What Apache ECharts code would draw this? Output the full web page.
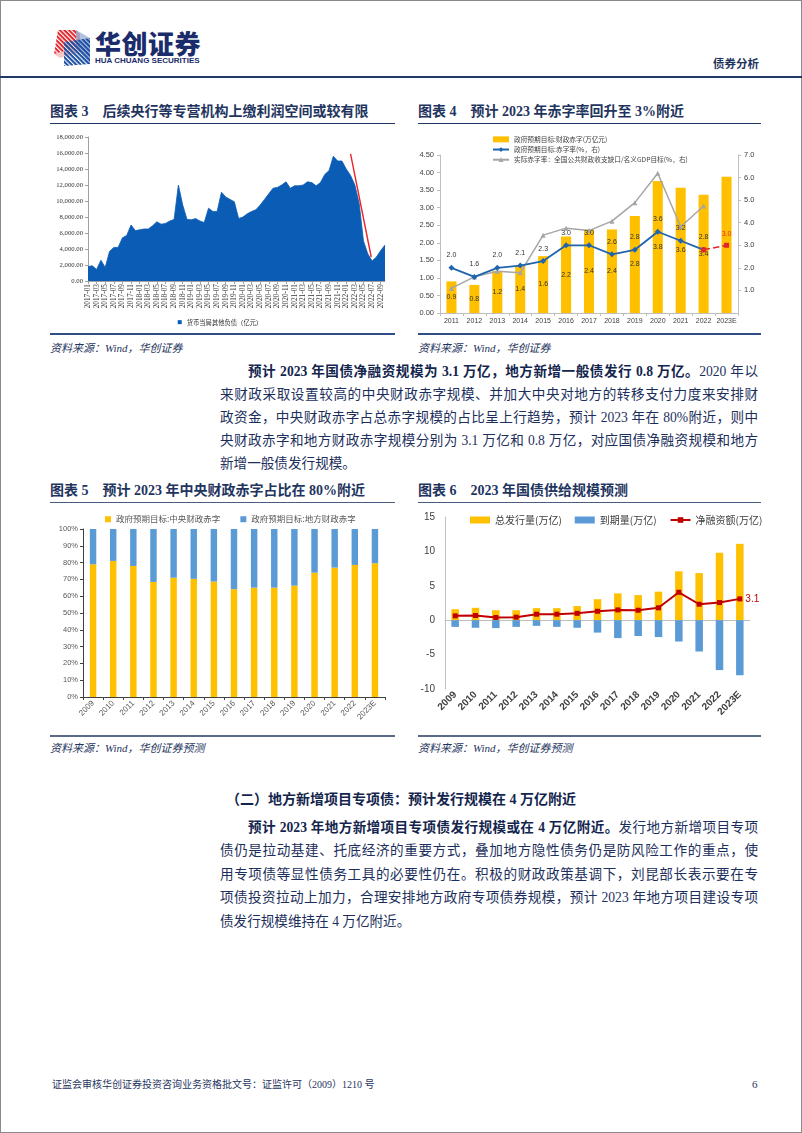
<!DOCTYPE html>
<html><head><meta charset="utf-8">
<script src="https://cdn.jsdelivr.net/npm/echarts@6/dist/echarts.min.js"></script>
<style>
html,body{margin:0;padding:0;}
body{width:802px;height:1133px;position:relative;background:#fff;overflow:hidden;
 font-family:"Liberation Serif","Noto Sans CJK SC",serif;color:#1c2f5c;}
.a{position:absolute;}
.frame{left:0;top:0;width:800px;height:1131px;border:1px solid #8a8a8a;}
.rule{position:absolute;height:0;}
.ttl{position:absolute;font-size:14px;font-weight:bold;line-height:20px;white-space:nowrap;color:#1f3560;}
.src{position:absolute;font-size:11px;font-style:italic;line-height:16px;white-space:nowrap;color:#1f3560;}
.ln{position:absolute;font-size:13.6px;line-height:23px;height:23px;overflow:visible;color:#1c2f5c;}
.j{text-align:justify;text-align-last:justify;}
.ln b{color:#13254d;}
.chart{position:absolute;}
</style></head>
<body>
<div class="a frame"></div>

<!-- header -->
<svg class="a" style="left:50px;top:28px" width="44" height="40" viewBox="0 0 44 40">
 <defs>
  <pattern id="pr" width="3.2" height="3.2" patternUnits="userSpaceOnUse" patternTransform="rotate(45)">
   <rect width="3.2" height="2" fill="#e0262d"/></pattern>
  <pattern id="pb" width="3.2" height="3.2" patternUnits="userSpaceOnUse" patternTransform="rotate(45)">
   <rect width="3.2" height="2.1" fill="#1d4fa3"/></pattern>
 </defs>
 <polygon points="8,2 26,2 26,20 4,26" fill="url(#pr)"/>
 <polygon points="4,26 26,20 26,2 30,6 30,24 10,30" fill="#e0262d" opacity="0.25"/>
 <polygon points="14,14 40,10 40,36 14,38" fill="url(#pb)"/>
 <polygon points="26,2 40,10 40,36 26,20" fill="#1d4fa3" opacity="0.35"/>
</svg>
<div class="a" style="left:95px;top:28px;font-family:'Noto Sans CJK SC';font-weight:900;font-size:26px;line-height:30px;color:#1b2c6b;letter-spacing:0.5px;">华创证券</div>
<div class="a" style="left:95px;top:56px;font-family:'Liberation Sans';font-weight:bold;font-size:8px;line-height:10px;color:#1b2c6b;white-space:nowrap;">HUA CHUANG SECURITIES</div>
<div class="a" style="left:713px;top:55px;font-family:'Noto Sans CJK SC';font-weight:bold;font-size:11.5px;line-height:16px;color:#1f3560;">债券分析</div>
<div class="rule" style="left:0;top:76px;width:802px;border-top:2.5px solid #1f3864;"></div>

<!-- row 1 titles -->
<div class="ttl" style="left:50px;top:102px;">图表 3&nbsp;&nbsp;&nbsp;&nbsp;后续央行等专营机构上缴利润空间或较有限</div>
<div class="ttl" style="left:418px;top:102px;">图表 4&nbsp;&nbsp;&nbsp;&nbsp;预计 2023 年赤字率回升至 3%附近</div>
<div class="rule" style="left:50px;top:123px;width:345px;border-top:1.5px solid #1f3864;"></div>
<div class="rule" style="left:418px;top:123px;width:343px;border-top:1.5px solid #1f3864;"></div>

<div id="c3" class="chart" style="left:40px;top:128px;width:360px;height:205px;"></div>
<div id="c4" class="chart" style="left:405px;top:128px;width:370px;height:205px;"></div>

<div class="rule" style="left:50px;top:333px;width:345px;border-top:2px solid #2f4f86;"></div>
<div class="rule" style="left:418px;top:333px;width:343px;border-top:2px solid #2f4f86;"></div>
<div class="src" style="left:50px;top:340px;">资料来源：Wind，华创证券</div>
<div class="src" style="left:418px;top:340px;">资料来源：Wind，华创证券</div>

<!-- paragraph 1 -->
<div class="ln j" style="left:248px;top:360px;width:510px;"><b>预计 2023 年国债净融资规模为 3.1 万亿，地方新增一般债发行 0.8 万亿。</b>2020 年以</div>
<div class="ln j" style="left:220px;top:383px;width:538px;">来财政采取设置较高的中央财政赤字规模、并加大中央对地方的转移支付力度来安排财</div>
<div class="ln j" style="left:220px;top:406px;width:538px;">政资金，中央财政赤字占总赤字规模的占比呈上行趋势，预计 2023 年在 80%附近，则中</div>
<div class="ln j" style="left:220px;top:429px;width:538px;">央财政赤字和地方财政赤字规模分别为 3.1 万亿和 0.8 万亿，对应国债净融资规模和地方</div>
<div class="ln" style="left:220px;top:452px;width:538px;">新增一般债发行规模。</div>

<!-- row 2 titles -->
<div class="ttl" style="left:50px;top:481px;">图表 5&nbsp;&nbsp;&nbsp;&nbsp;预计 2023 年中央财政赤字占比在 80%附近</div>
<div class="ttl" style="left:418px;top:481px;">图表 6&nbsp;&nbsp;&nbsp;&nbsp;2023 年国债供给规模预测</div>
<div class="rule" style="left:50px;top:502px;width:345px;border-top:1.5px solid #4a5d80;"></div>
<div class="rule" style="left:418px;top:502px;width:343px;border-top:1.5px solid #4a5d80;"></div>

<div id="c5" class="chart" style="left:40px;top:508px;width:360px;height:228px;"></div>
<div id="c6" class="chart" style="left:405px;top:505px;width:370px;height:230px;"></div>

<div class="rule" style="left:50px;top:735px;width:345px;border-top:2px solid #5a6b88;"></div>
<div class="rule" style="left:418px;top:735px;width:343px;border-top:2px solid #5a6b88;"></div>
<div class="src" style="left:50px;top:740px;">资料来源：Wind，华创证券预测</div>
<div class="src" style="left:418px;top:740px;">资料来源：Wind，华创证券预测</div>

<!-- section 2 -->
<div class="ln" style="left:226px;top:788px;font-size:14px;font-weight:bold;color:#13254d;white-space:nowrap;">（二）地方新增项目专项债：预计发行规模在 4 万亿附近</div>
<div class="ln j" style="left:248px;top:815.5px;width:510px;"><b>预计 2023 年地方新增项目专项债发行规模或在 4 万亿附近。</b>发行地方新增项目专项</div>
<div class="ln j" style="left:220px;top:839px;width:538px;">债仍是拉动基建、托底经济的重要方式，叠加地方隐性债务仍是防风险工作的重点，使</div>
<div class="ln j" style="left:220px;top:862.5px;width:538px;">用专项债等显性债务工具的必要性仍在。积极的财政政策基调下，刘昆部长表示要在专</div>
<div class="ln j" style="left:220px;top:886px;width:538px;">项债投资拉动上加力，合理安排地方政府专项债券规模，预计 2023 年地方项目建设专项</div>
<div class="ln" style="left:220px;top:909.5px;width:538px;">债发行规模维持在 4 万亿附近。</div>

<!-- footer -->
<div class="a" style="left:52px;top:1078px;font-size:10px;line-height:14px;color:#1f3560;white-space:nowrap;">证监会审核华创证券投资咨询业务资格批文号：证监许可（2009）1210 号</div>
<div class="a" style="left:752px;top:1077px;font-size:11px;line-height:14px;color:#1f3560;">6</div>

<script>
// ---------- Chart 3 data ----------
var months3 = ['2017-01','2017-02','2017-03','2017-04','2017-05','2017-06','2017-07','2017-08','2017-09','2017-10','2017-11','2017-12',
 '2018-01','2018-02','2018-03','2018-04','2018-05','2018-06','2018-07','2018-08','2018-09','2018-10','2018-11','2018-12',
 '2019-01','2019-02','2019-03','2019-04','2019-05','2019-06','2019-07','2019-08','2019-09','2019-10','2019-11','2019-12',
 '2020-01','2020-02','2020-03','2020-04','2020-05','2020-06','2020-07','2020-08','2020-09','2020-10','2020-11','2020-12',
 '2021-01','2021-02','2021-03','2021-04','2021-05','2021-06','2021-07','2021-08','2021-09','2021-10','2021-11','2021-12',
 '2022-01','2022-02','2022-03','2022-04','2022-05','2022-06','2022-07','2022-08','2022-09','2022-10'];
var otherLiab = [1800,1900,1450,2600,1700,3700,4200,4200,5400,5700,
 7000,6300,6400,6500,6500,6900,7400,7100,7200,7500,
 7700,12000,9500,7700,7650,7800,7500,7300,9100,8700,
 8700,11100,10500,10200,9900,7800,8000,8400,8700,8900,
 9500,10200,10900,11600,11700,12000,12400,11600,11900,11900,
 12000,12400,12300,11900,12300,13300,13800,15600,15000,15000,
 14000,13200,12000,9700,5000,3400,2500,3000,3800,4500];
var arrowFrom = [61, 15900], arrowTo = [65.8, 3000];

// ---------- Chart 4 data ----------
var years4 = ['2011','2012','2013','2014','2015','2016','2017','2018','2019','2020','2021','2022','2023E'];
var deficit4 = [0.9,0.8,1.2,1.35,1.62,2.18,2.38,2.38,2.76,3.76,3.57,3.37,3.88];
var rateTarget4 = [2.0,1.6,2.0,2.1,2.3,3.0,3.0,2.6,2.8,3.6,3.2,2.8,null];
var rateActual4 = [1.1,1.6,1.85,1.78,3.45,3.76,3.65,4.07,4.89,6.19,3.82,4.74,null];
var rateForecast4 = [null,null,null,null,null,null,null,null,null,null,null,2.8,3.0];

// ---------- Chart 5 data ----------
var years5 = ['2009','2010','2011','2012','2013','2014','2015','2016','2017','2018','2019','2020','2021','2022','2023E'];
var centralShare5 = [79,81,78,68.5,71,70.3,68.7,64.2,65.1,65.1,66.3,74,77,78.6,79.6];
var localShare5 = [21,19,22,31.5,29,29.7,31.3,35.8,34.9,34.9,33.7,26,23,21.4,20.4];

// ---------- Chart 6 data ----------
var years6 = ['2009','2010','2011','2012','2013','2014','2015','2016','2017','2018','2019','2020','2021','2022','2023E'];
var issuance6 = [1.6,1.8,1.45,1.45,1.75,1.75,2.05,3.05,3.9,3.65,4.15,7.1,6.85,9.8,11.1];
var maturity6 = [-0.97,-1.1,-1.15,-0.97,-0.82,-0.97,-1.1,-1.8,-2.6,-2.3,-2.45,-3.1,-4.55,-7.25,-8.0];
var netFin6 = [0.63,0.68,0.39,0.44,0.87,0.87,1.0,1.3,1.5,1.45,1.8,4.06,2.32,2.56,3.1];

var SERIF = 'Liberation Serif, Noto Sans CJK SC';
var SANS = 'Liberation Sans, Noto Sans CJK SC';
var CJK = 'Noto Sans CJK SC';

// ---------- Chart 3 ----------
var c3 = echarts.init(document.getElementById('c3'));
c3.setOption({
  animation:false,
  grid:{left:48,right:15,top:9,bottom:52,outerBoundsMode:'none',containLabel:false},
  legend:{top:186,left:'center',icon:'rect',itemWidth:4,itemHeight:4,itemGap:4,
    textStyle:{fontSize:6.3,fontFamily:CJK,color:'#333'},data:['货币当局其他负债（亿元）']},
  xAxis:{type:'value',min:0,max:otherLiab.length-1,interval:2,
    axisLine:{show:true,lineStyle:{color:'#a0a0a0',width:1}},
    axisTick:{show:true,length:3,lineStyle:{color:'#a0a0a0'}},
    splitLine:{show:false},
    axisLabel:{rotate:90,fontSize:7.3,fontFamily:SERIF,color:'#333',margin:3,
      showMaxLabel:false,
      formatter:function(v){return (v%2===0 && months3[v])?months3[v]:'';}}},
  yAxis:{type:'value',min:0,max:18000,interval:2000,
    axisLine:{show:true,lineStyle:{color:'#a0a0a0'}},
    axisTick:{show:true,length:3,lineStyle:{color:'#a0a0a0'}},
    splitLine:{show:false},
    axisLabel:{fontSize:6.7,fontFamily:SERIF,color:'#333',margin:5,
      formatter:function(v){return v.toLocaleString('en-US',{minimumFractionDigits:2,maximumFractionDigits:2});}}},
  series:[{
    name:'货币当局其他负债（亿元）',type:'line',symbol:'none',showSymbol:false,
    data:otherLiab.map(function(v,i){return [i,v];}),
    itemStyle:{color:'#0b5cb5'},
    lineStyle:{color:'#0b5cb5',width:0.8},
    areaStyle:{color:'#0b5cb5',opacity:1},
    markLine:{silent:true,symbol:['none','arrow'],symbolSize:[0,8],
      lineStyle:{color:'#e8262a',width:1.4,type:'solid'},label:{show:false},
      data:[[{coord:arrowFrom},{coord:arrowTo}]]}
  }]
});

// ---------- Chart 4 ----------
var c4 = echarts.init(document.getElementById('c4'));
c4.setOption({
  animation:false,
  grid:{left:35,right:37,top:27,bottom:20,outerBoundsMode:'none',containLabel:false},
  legend:{orient:'vertical',left:82,top:3,itemGap:3.5,itemWidth:16,itemHeight:6,
    textStyle:{fontSize:6.7,fontFamily:CJK,color:'#404040'},
    data:[{name:'政府预期目标:财政赤字(万亿元)',icon:'rect'},
          {name:'政府预期目标:赤字率(%，右)'},
          {name:'实际赤字率：全国公共财政收支缺口/名义GDP目标(%，右)'}]},
  xAxis:{type:'category',data:years4,
    axisLine:{lineStyle:{color:'#bfbfbf'}},
    axisTick:{show:true,length:3,lineStyle:{color:'#bfbfbf'}},
    axisLabel:{fontSize:7,fontFamily:SANS,color:'#404040',margin:5,interval:0,hideOverlap:false}},
  yAxis:[{type:'value',min:0,max:4.5,interval:0.5,
    axisLine:{show:true,lineStyle:{color:'#bfbfbf'}},
    axisTick:{show:true,length:3,lineStyle:{color:'#bfbfbf'}},
    splitLine:{show:false},
    axisLabel:{fontSize:7.5,fontFamily:SANS,color:'#404040',margin:6,
      formatter:function(v){return v.toFixed(2);}}},
   {type:'value',min:0,max:7,interval:1,position:'right',
    axisLine:{show:true,lineStyle:{color:'#bfbfbf'}},
    axisTick:{show:true,length:3,lineStyle:{color:'#bfbfbf'}},
    splitLine:{show:false},
    axisLabel:{fontSize:7.5,fontFamily:SANS,color:'#404040',margin:6,showMinLabel:false,
      formatter:function(v){return v===0?'':v.toFixed(1);}}}],
  series:[
   {name:'政府预期目标:财政赤字(万亿元)',type:'bar',data:deficit4,barWidth:'44%',
    itemStyle:{color:'#ffc000'},
    label:{show:true,position:'inside',fontSize:7,fontFamily:SANS,color:'#333',
      formatter:function(p){return p.dataIndex<deficit4.length-1?p.value.toFixed(1):'';}}},
   {name:'实际赤字率：全国公共财政收支缺口/名义GDP目标(%，右)',type:'line',yAxisIndex:1,data:rateActual4,
    symbol:'triangle',symbolSize:5,itemStyle:{color:'#a5a5a5'},lineStyle:{color:'#a5a5a5',width:1.5}},
   {name:'政府预期目标:赤字率(%，右)',type:'line',yAxisIndex:1,data:rateTarget4,
    symbol:'diamond',symbolSize:6,itemStyle:{color:'#1f64ac'},lineStyle:{color:'#1f64ac',width:1.8},
    label:{show:true,position:'top',distance:6,fontSize:7,fontFamily:SANS,color:'#333',
      formatter:function(p){return p.value==null?'':Number(p.value).toFixed(1);}}},
   {name:'forecast',type:'line',yAxisIndex:1,data:rateForecast4,
    symbol:'rect',symbolSize:5,itemStyle:{color:'#e3262b'},lineStyle:{color:'#e3262b',width:1.6,type:'dashed'},
    label:{show:true,position:'top',distance:5,fontSize:7,fontFamily:SANS,color:'#e3262b',
      formatter:function(p){return p.dataIndex===rateForecast4.length-1?Number(p.value).toFixed(1):'';}}}
  ]
});

// ---------- Chart 5 ----------
var c5 = echarts.init(document.getElementById('c5'));
c5.setOption({
  animation:false,
  grid:{left:43,right:15,top:21,bottom:39,outerBoundsMode:'none',containLabel:false},
  legend:{top:2,left:60,icon:'rect',itemWidth:6,itemHeight:6,itemGap:20,
    textStyle:{fontSize:8.5,fontFamily:CJK,color:'#595959'},
    data:['政府预期目标:中央财政赤字','政府预期目标:地方财政赤字']},
  xAxis:{type:'category',data:years5,
    axisLine:{lineStyle:{color:'#404040'}},
    axisTick:{show:true,length:3,lineStyle:{color:'#404040'}},
    axisLabel:{rotate:45,fontSize:8,fontFamily:SANS,color:'#595959',margin:5,interval:0}},
  yAxis:{type:'value',min:0,max:100,interval:10,
    axisLine:{show:true,lineStyle:{color:'#404040'}},
    axisTick:{show:true,length:3,lineStyle:{color:'#404040'}},
    splitLine:{show:false},
    axisLabel:{fontSize:7.5,fontFamily:SANS,color:'#595959',margin:5,formatter:'{value}%'}},
  series:[
   {name:'政府预期目标:中央财政赤字',type:'bar',stack:'s',data:centralShare5,barWidth:'32%',itemStyle:{color:'#ffc000'}},
   {name:'政府预期目标:地方财政赤字',type:'bar',stack:'s',data:localShare5,barWidth:'32%',itemStyle:{color:'#5b9bd5'}}
  ]
});

// ---------- Chart 6 ----------
var c6 = echarts.init(document.getElementById('c6'));
c6.setOption({
  animation:false,
  grid:{left:40,right:25,top:12,bottom:46,outerBoundsMode:'none',containLabel:false},
  legend:{top:5,left:60,itemGap:13,itemWidth:20,itemHeight:7,
    textStyle:{fontSize:10,fontFamily:CJK,color:'#404040'},
    data:[{name:'总发行量(万亿)',icon:'rect'},{name:'到期量(万亿)',icon:'rect'},{name:'净融资额(万亿)'}]},
  xAxis:[{type:'category',data:years6,position:'bottom',
    axisLine:{show:false,onZero:false},
    axisTick:{show:false},
    axisLabel:{rotate:45,fontSize:10,fontWeight:'bold',fontFamily:SANS,color:'#404040',margin:4,interval:0}},
   {type:'category',data:years6,position:'top',
    axisLine:{show:true,onZero:true,lineStyle:{color:'#bfbfbf'}},
    axisTick:{show:false},
    axisLabel:{show:false}}],
  yAxis:{type:'value',min:-10,max:15,interval:5,
    axisLine:{show:true,lineStyle:{color:'#bfbfbf'}},
    axisTick:{show:false},
    splitLine:{show:false},
    axisLabel:{fontSize:10,fontFamily:SANS,color:'#404040',margin:10}},
  series:[
   {name:'总发行量(万亿)',type:'bar',data:issuance6,barWidth:'37%',barGap:'-100%',itemStyle:{color:'#ffc000'}},
   {name:'到期量(万亿)',type:'bar',data:maturity6,barWidth:'37%',barGap:'-100%',itemStyle:{color:'#5b9bd5'}},
   {name:'净融资额(万亿)',type:'line',data:netFin6,symbol:'rect',symbolSize:5,
    itemStyle:{color:'#c00000'},lineStyle:{color:'#c00000',width:2},
    label:{show:true,position:'right',distance:3,fontSize:10,fontFamily:SANS,color:'#c00000',
      formatter:function(p){return p.dataIndex===netFin6.length-1?p.value.toFixed(1):'';}}}
  ]
});
</script>
</body></html>
